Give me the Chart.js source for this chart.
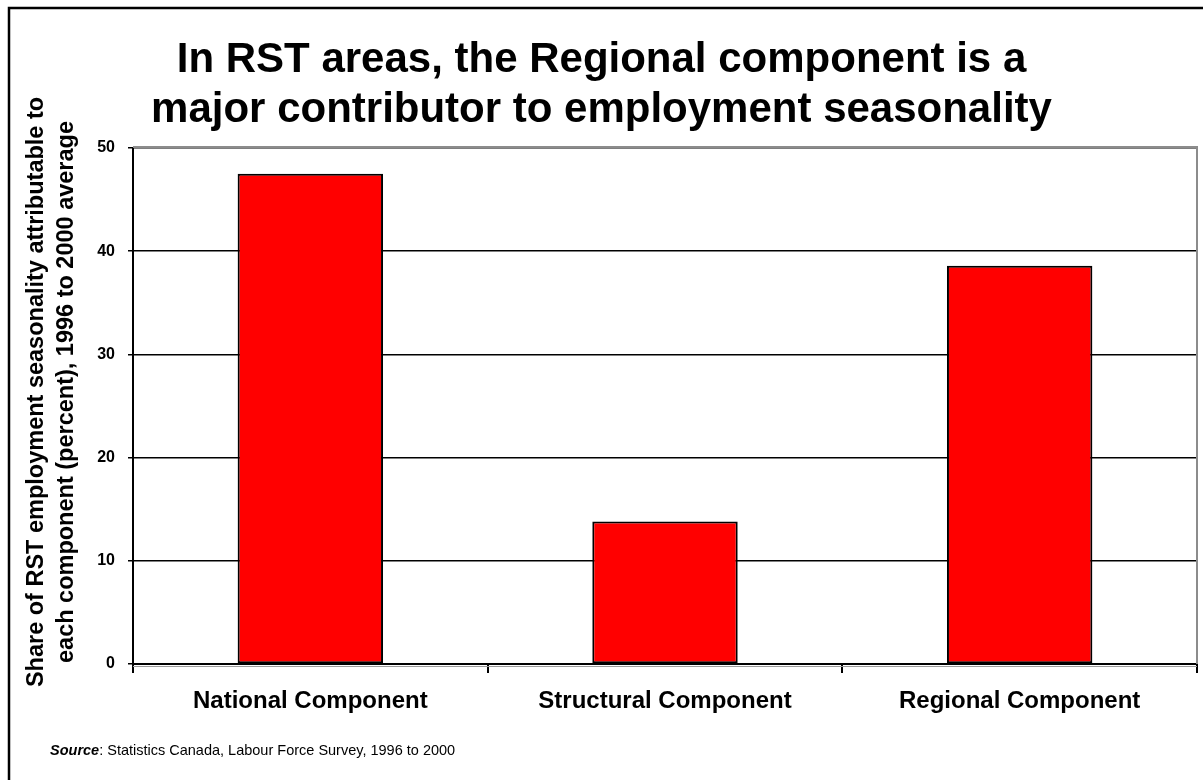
<!DOCTYPE html>
<html>
<head>
<meta charset="utf-8">
<script src="https://cdn.jsdelivr.net/npm/chart.js@4.4.1/dist/chart.umd.min.js"></script>
<style>
  html, body { margin: 0; padding: 0; background: #ffffff; }
  #wrap { width: 1203px; height: 780px; }
</style>
</head>
<body>
<div id="wrap"><canvas id="c" width="1203" height="780"></canvas></div>
<script>
const categories = ['National Component', 'Structural Component', 'Regional Component'];
const shares = [47.5, 13.8, 38.6];
const yMin = 0;
const yMax = 50;
const yStep = 10;
const titleLines = ['In RST areas, the Regional component is a', 'major contributor to employment seasonality'];
const yTitleLines = ['Share of RST employment seasonality attributable to', 'each component (percent), 1996 to 2000 average'];
const sourceLabel = 'Source';
const sourceText = ': Statistics Canada, Labour Force Survey, 1996 to 2000';

const FONT = '"Liberation Sans", Arial, Helvetica, sans-serif';

const decor = {
  id: 'decor',
  beforeDraw(chart) {
    const ctx = chart.ctx;
    ctx.save();
    ctx.fillStyle = '#ffffff';
    ctx.fillRect(0, 0, chart.width, chart.height);
    ctx.restore();
  },
  afterDraw(chart) {
    const ctx = chart.ctx;
    const a = chart.chartArea;
    ctx.save();
    // plot area border (grey, top and right)
    ctx.strokeStyle = '#8c8c8c';
    ctx.lineWidth = 2;
    ctx.beginPath();
    ctx.moveTo(a.left, a.top - 1);
    ctx.lineTo(a.right, a.top - 1);
    ctx.lineTo(a.right, a.bottom);
    ctx.stroke();
    // grey shadow under x axis
    ctx.strokeStyle = '#9a9a9a';
    ctx.lineWidth = 1;
    ctx.beginPath();
    ctx.moveTo(a.left, a.bottom + 2.5);
    ctx.lineTo(a.right, a.bottom + 2.5);
    ctx.stroke();
    // outer frame
    ctx.strokeStyle = '#000000';
    ctx.lineWidth = 2.5;
    ctx.strokeRect(9, 8, chart.width + 10, chart.height + 10);
    // y-axis title (two rotated lines)
    ctx.fillStyle = '#000000';
    ctx.font = 'bold 23.5px ' + FONT;
    ctx.textAlign = 'center';
    ctx.textBaseline = 'middle';
    const yc = 392;
    yTitleLines.forEach((line, i) => {
      ctx.save();
      ctx.translate(37 + i * 30, yc);
      ctx.rotate(-Math.PI / 2);
      ctx.fillText(line, 0, 0);
      ctx.restore();
    });
    // source note
    ctx.textAlign = 'left';
    ctx.font = 'italic bold 14.5px ' + FONT;
    const x0 = 50, y0 = 751;
    ctx.fillText(sourceLabel, x0, y0);
    const w = ctx.measureText(sourceLabel).width;
    ctx.font = '14.5px ' + FONT;
    ctx.fillText(sourceText, x0 + w, y0);
    ctx.restore();
  }
};

new Chart(document.getElementById('c'), {
  type: 'bar',
  data: {
    labels: categories,
    datasets: [{
      data: shares,
      backgroundColor: '#ff0000',
      borderColor: '#000000',
      borderWidth: 2,
      borderSkipped: false,
      barPercentage: 0.41,
      categoryPercentage: 1.0
    }]
  },
  options: {
    responsive: false,
    animation: false,
    devicePixelRatio: 1,
    layout: { padding: { left: 6, top: 0, right: 6, bottom: 0 } },
    plugins: {
      legend: { display: false },
      tooltip: { enabled: false },
      title: {
        display: true,
        text: titleLines,
        color: '#000000',
        font: { family: FONT, size: 42, weight: 'bold', lineHeight: '50px' },
        padding: { top: 35, bottom: 13 }
      }
    },
    scales: {
      x: {
        grid: {
          display: true,
          drawOnChartArea: false,
          drawTicks: true,
          tickLength: 9,
          color: '#000000',
          lineWidth: 2,
          offset: true
        },
        border: { display: true, color: '#000000', width: 2 },
        ticks: {
          color: '#000000',
          padding: 14,
          font: { family: FONT, size: 24, weight: 'bold' },
          maxRotation: 0
        },
        afterFit(scale) { scale.height = 116; }
      },
      y: {
        min: yMin,
        max: yMax,
        grid: {
          color: '#000000',
          lineWidth: 1.5,
          drawTicks: true,
          tickLength: 5
        },
        border: { display: true, color: '#000000', width: 2 },
        ticks: {
          stepSize: yStep,
          color: '#000000',
          padding: 13,
          font: { family: FONT, size: 16, weight: 'bold' }
        },
        title: { display: false },
        afterFit(scale) { scale.width = 127; }
      }
    }
  },
  plugins: [decor]
});
</script>
</body>
</html>
